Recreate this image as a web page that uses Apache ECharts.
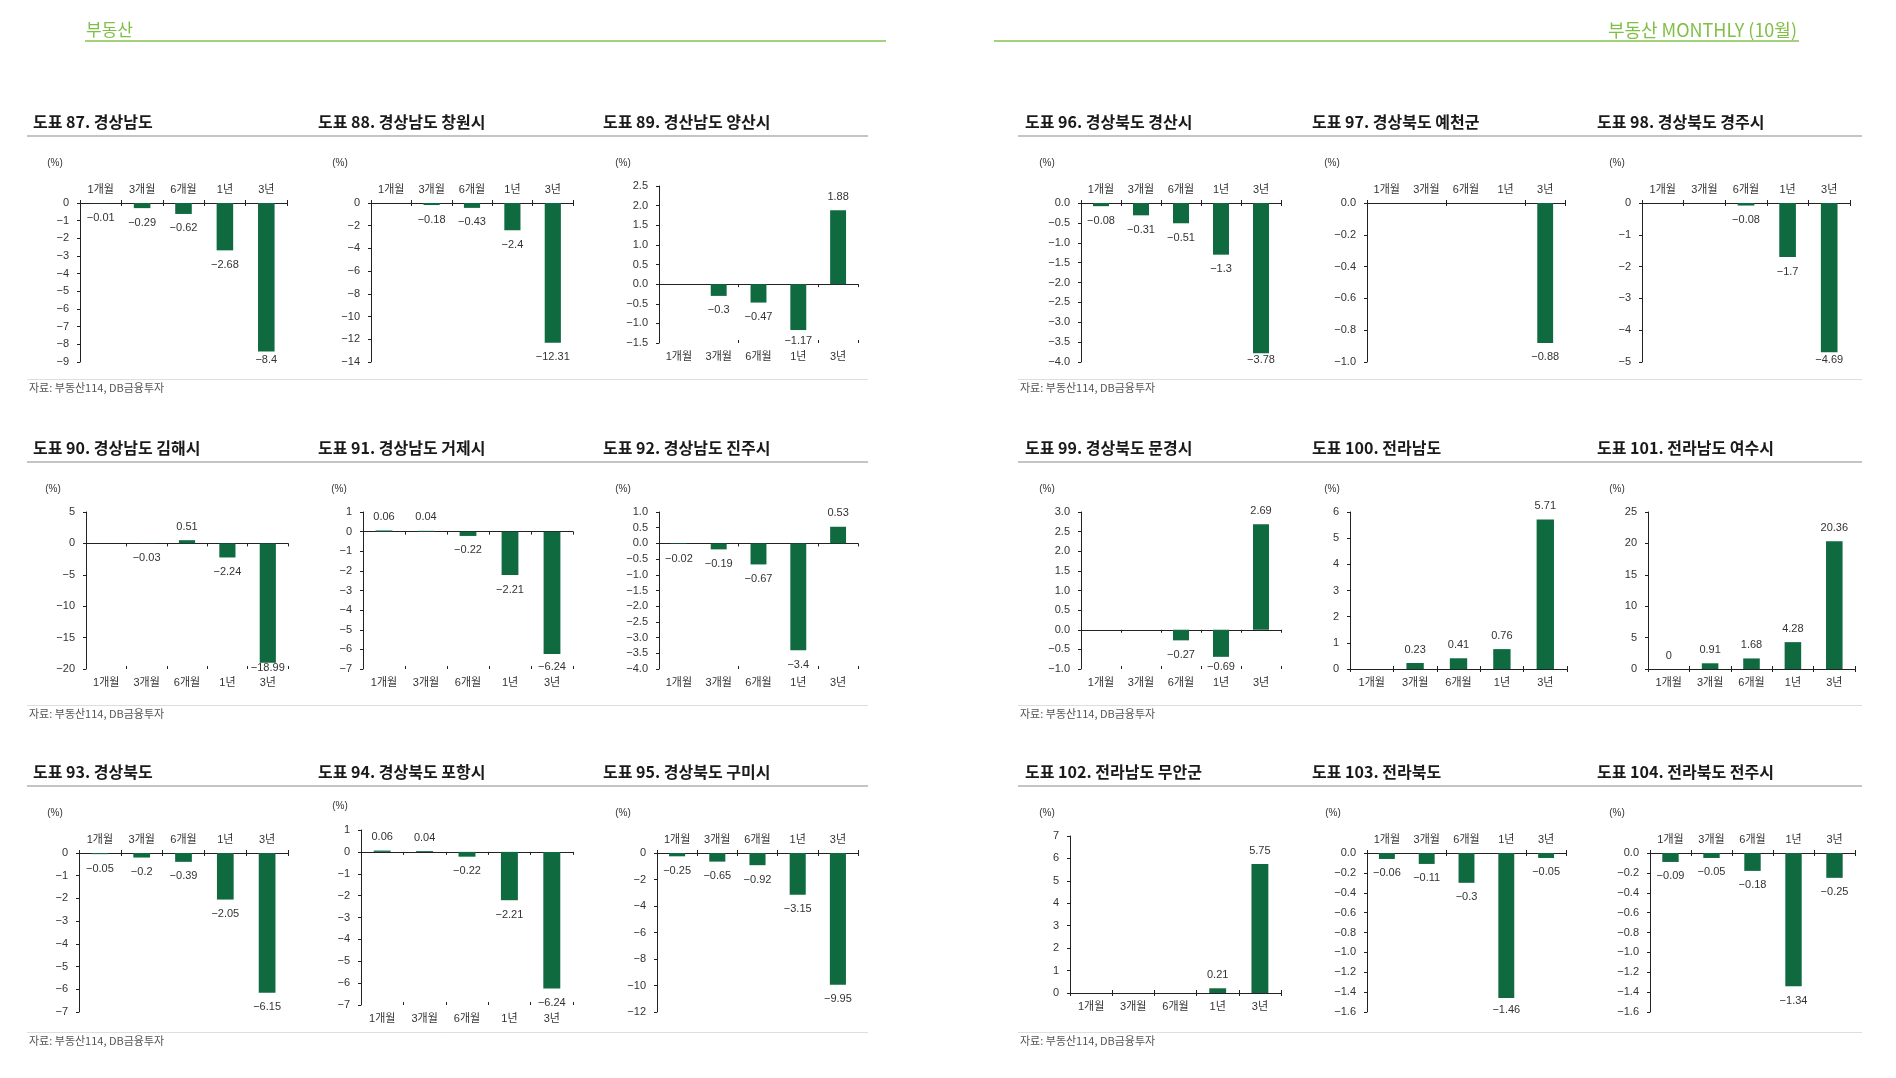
<!DOCTYPE html>
<html><head><meta charset="utf-8">
<script src="https://cdn.jsdelivr.net/npm/echarts@6/dist/echarts.min.js"></script>
<style>html,body{margin:0;padding:0;background:#fff;}#c{width:1896px;height:1078px;}</style>
</head><body><div id="c"></div>
<script>
// ---------- data ----------
const categories = ['1개월', '3개월', '6개월', '1년', '3년'];
const titles = [
  '도표 87. 경상남도', '도표 88. 경상남도 창원시', '도표 89. 경산남도 양산시',
  '도표 90. 경상남도 김해시', '도표 91. 경상남도 거제시', '도표 92. 경상남도 진주시',
  '도표 93. 경상북도', '도표 94. 경상북도 포항시', '도표 95. 경상북도 구미시',
  '도표 96. 경상북도 경산시', '도표 97. 경상북도 예천군', '도표 98. 경상북도 경주시',
  '도표 99. 경상북도 문경시', '도표 100. 전라남도', '도표 101. 전라남도 여수시',
  '도표 102. 전라남도 무안군', '도표 103. 전라북도', '도표 104. 전라북도 전주시'
];
const v87 = [-0.01, -0.29, -0.62, -2.68, -8.4];
const v88 = [null, -0.18, -0.43, -2.4, -12.31];
const v89 = [null, -0.3, -0.47, -1.17, 1.88];
const v90 = [null, -0.03, 0.51, -2.24, -18.99];
const v91 = [0.06, 0.04, -0.22, -2.21, -6.24];
const v92 = [-0.02, -0.19, -0.67, -3.4, 0.53];
const v93 = [-0.05, -0.2, -0.39, -2.05, -6.15];
const v94 = [0.06, 0.04, -0.22, -2.21, -6.24];
const v95 = [-0.25, -0.65, -0.92, -3.15, -9.95];
const v96 = [-0.08, -0.31, -0.51, -1.3, -3.78];
const v97 = [null, null, null, null, -0.88];
const v98 = [null, null, -0.08, -1.7, -4.69];
const v99 = [null, null, -0.27, -0.69, 2.69];
const v100 = [null, 0.23, 0.41, 0.76, 5.71];
const v101 = [0, 0.91, 1.68, 4.28, 20.36];
const v102 = [null, null, null, 0.21, 5.75];
const v103 = [-0.06, -0.11, -0.3, -1.46, -0.05];
const v104 = [-0.09, -0.05, -0.18, -1.34, -0.25];
const seriesValues = [v87, v88, v89, v90, v91, v92, v93, v94, v95, v96, v97, v98, v99, v100, v101, v102, v103, v104];
// y-axis tick ranges
const yMin  = [-9, -14, -1.5, -20, -7, -4, -7, -7, -12, -4, -1, -5, -1, 0, 0, 0, -1.6, -1.6];
const yMax  = [0, 0, 2.5, 5, 1, 1, 0, 1, 0, 0, 0, 0, 3, 6, 25, 7, 0, 0];
const yStep = [1, 2, 0.5, 5, 1, 0.5, 1, 1, 2, 0.5, 0.2, 1, 0.5, 1, 5, 1, 0.2, 0.2];
const unitText = '(%)';
const sourceText = '자료: 부동산114, DB금융투자';
const headerLeft = '부동산';
const headerRight = '부동산 MONTHLY (10월)';

// ---------- layout ----------
const rowOff = [0, 326, 650];
const footOff = [0, 326, 653];
const axisX  = [80, 371, 659, 86, 363, 659, 79, 361, 657, 1081, 1367, 1642, 1081, 1350, 1648, 1070, 1367, 1650];
const rightX = [287, 573, 858, 288, 573, 858, 288, 573, 858, 1281, 1565, 1850, 1281, 1567, 1855, 1281, 1566, 1855];
const rowOf  = [0, 0, 0, 1, 1, 1, 2, 2, 2, 0, 0, 0, 1, 1, 1, 2, 2, 2];
const catTop = [1, 1, 0, 0, 0, 0, 1, 0, 1, 1, 1, 1, 0, 0, 0, 0, 1, 1];
const pctX   = [55, 340, 623, 53, 339, 623, 55, 340, 623, 1047, 1332, 1617, 1047, 1332, 1617, 1047, 1333, 1617];
const titleX = [33, 318, 603, 33, 318, 603, 33, 318, 603, 1025, 1312, 1597, 1025, 1312, 1597, 1025, 1312, 1597];

const BAR = '#106a40';
const AX = '#222';
const TXT = '#333';
const FONT = "'Liberation Sans','Noto Sans CJK KR',sans-serif";
const KFONT = "'Noto Sans CJK KR',sans-serif";

function sgn(v, dec) {
  const s = dec == null ? String(Math.abs(v)) : Math.abs(v).toFixed(dec);
  return (v < 0 && Math.abs(v) > 1e-9 ? '\u2212' : '') + s;
}

const grids = [], xAxes = [], yAxes = [], series = [], graphics = [];

for (let i = 0; i < 18; i++) {
  const R = rowOff[rowOf[i]];
  let top, bottom;
  if (catTop[i]) { top = 203 + R; bottom = 362 + R; }
  else { top = 186 + R; bottom = 343 + R; }
  let pctY = 163 + R;
  if (i === 7) { top = 830; bottom = 1005; pctY = 806; }
  const H = bottom - top;
  grids.push({ left: axisX[i], top: top, width: rightX[i] - axisX[i], height: H });
  const pos = catTop[i] ? 'top' : 'bottom';
  xAxes.push({ gridIndex: i, type: 'category', data: categories, position: pos,
    axisLine: { show: true, onZero: true, lineStyle: { color: AX, width: 1 } },
    axisTick: { show: true, length: 3, lineStyle: { color: AX } },
    axisLabel: { show: false }, splitLine: { show: false } });
  xAxes.push({ gridIndex: i, type: 'category', data: categories, position: pos,
    axisLine: { show: false, onZero: true },
    axisTick: { show: true, inside: true, length: 3, lineStyle: { color: AX } },
    axisLabel: { show: false }, splitLine: { show: false } });
  xAxes.push({ gridIndex: i, type: 'category', data: categories, position: pos,
    axisLine: { show: false, onZero: false }, axisTick: { show: false },
    axisLabel: { show: true, fontSize: 11, color: TXT, fontFamily: FONT, margin: 8, interval: 0 },
    splitLine: { show: false } });
  const dec = yStep[i] < 1 ? 1 : 0;
  yAxes.push({ gridIndex: i, type: 'value', min: yMin[i], max: yMax[i], interval: yStep[i],
    axisLine: { show: true, onZero: false, lineStyle: { color: AX } },
    axisTick: { show: true, length: 3, lineStyle: { color: AX } },
    splitLine: { show: false },
    axisLabel: { fontSize: 11, color: TXT, fontFamily: FONT, margin: 11,
      formatter: (v) => sgn(v, dec) } });
  const span = yMax[i] - yMin[i];
  const data = seriesValues[i].map((v) => {
    if (v == null) return '-';
    if (v >= 0) return { value: v, label: { position: 'top', distance: 8 } };
    const avail = (v - yMin[i]) / span * H;
    let d = Math.min(9, avail - 7.5);
    if (d < 0) d = 0;
    return { value: v, label: { position: 'bottom', distance: d } };
  });
  series.push({ type: 'bar', xAxisIndex: 3 * i, yAxisIndex: i, data: data, barWidth: '40%',
    itemStyle: { color: BAR }, silent: true, animation: false,
    label: { show: true, fontSize: 11, color: TXT, fontFamily: FONT,
      formatter: (p) => (p.value == null || p.value === '-') ? '' : sgn(p.value) } });

  graphics.push({ type: 'text', x: titleX[i], y: 122 + R,
    style: { text: titles[i], font: 'bold 16px ' + KFONT, fill: '#1a1a1a',
      textAlign: 'left', textVerticalAlign: 'middle', align: 'left', verticalAlign: 'middle' } });
  graphics.push({ type: 'text', x: pctX[i], y: pctY,
    style: { text: unitText, font: '10px ' + FONT, fill: TXT,
      textAlign: 'center', textVerticalAlign: 'middle', align: 'center', verticalAlign: 'middle' } });
}

const pages = [[27, 868], [1018, 1862]];
for (let r = 0; r < 3; r++) {
  const R = rowOff[r], F = footOff[r];
  pages.forEach(([a, b]) => {
    graphics.push({ type: 'line', shape: { x1: a, y1: 136 + R, x2: b, y2: 136 + R },
      style: { stroke: '#c4c4c4', lineWidth: 2 } });
    graphics.push({ type: 'line', shape: { x1: a, y1: 379.5 + F, x2: b, y2: 379.5 + F },
      style: { stroke: '#dedede', lineWidth: 1 } });
    graphics.push({ type: 'text', x: a + 2, y: 388 + F,
      style: { text: sourceText, font: '11px ' + KFONT, fill: '#555',
        textAlign: 'left', textVerticalAlign: 'middle', align: 'left', verticalAlign: 'middle' } });
  });
}
graphics.push({ type: 'line', shape: { x1: 85, y1: 41, x2: 886, y2: 41 }, style: { stroke: '#a2d27a', lineWidth: 2 } });
graphics.push({ type: 'line', shape: { x1: 994, y1: 41, x2: 1799, y2: 41 }, style: { stroke: '#a2d27a', lineWidth: 2 } });
graphics.push({ type: 'text', x: 86, y: 30, style: { text: headerLeft, font: '17px ' + KFONT, fill: '#7fbf45',
  textAlign: 'left', textVerticalAlign: 'middle', align: 'left', verticalAlign: 'middle' } });
graphics.push({ type: 'text', x: 1797, y: 30, style: { text: headerRight, font: '18px ' + KFONT, fill: '#7fbf45',
  textAlign: 'right', textVerticalAlign: 'middle', align: 'right', verticalAlign: 'middle' } });

const chart = echarts.init(document.getElementById('c'));
chart.setOption({
  backgroundColor: '#fff', animation: false,
  grid: grids, xAxis: xAxes, yAxis: yAxes, series: series,
  graphic: { elements: graphics }
});
</script></body></html>
